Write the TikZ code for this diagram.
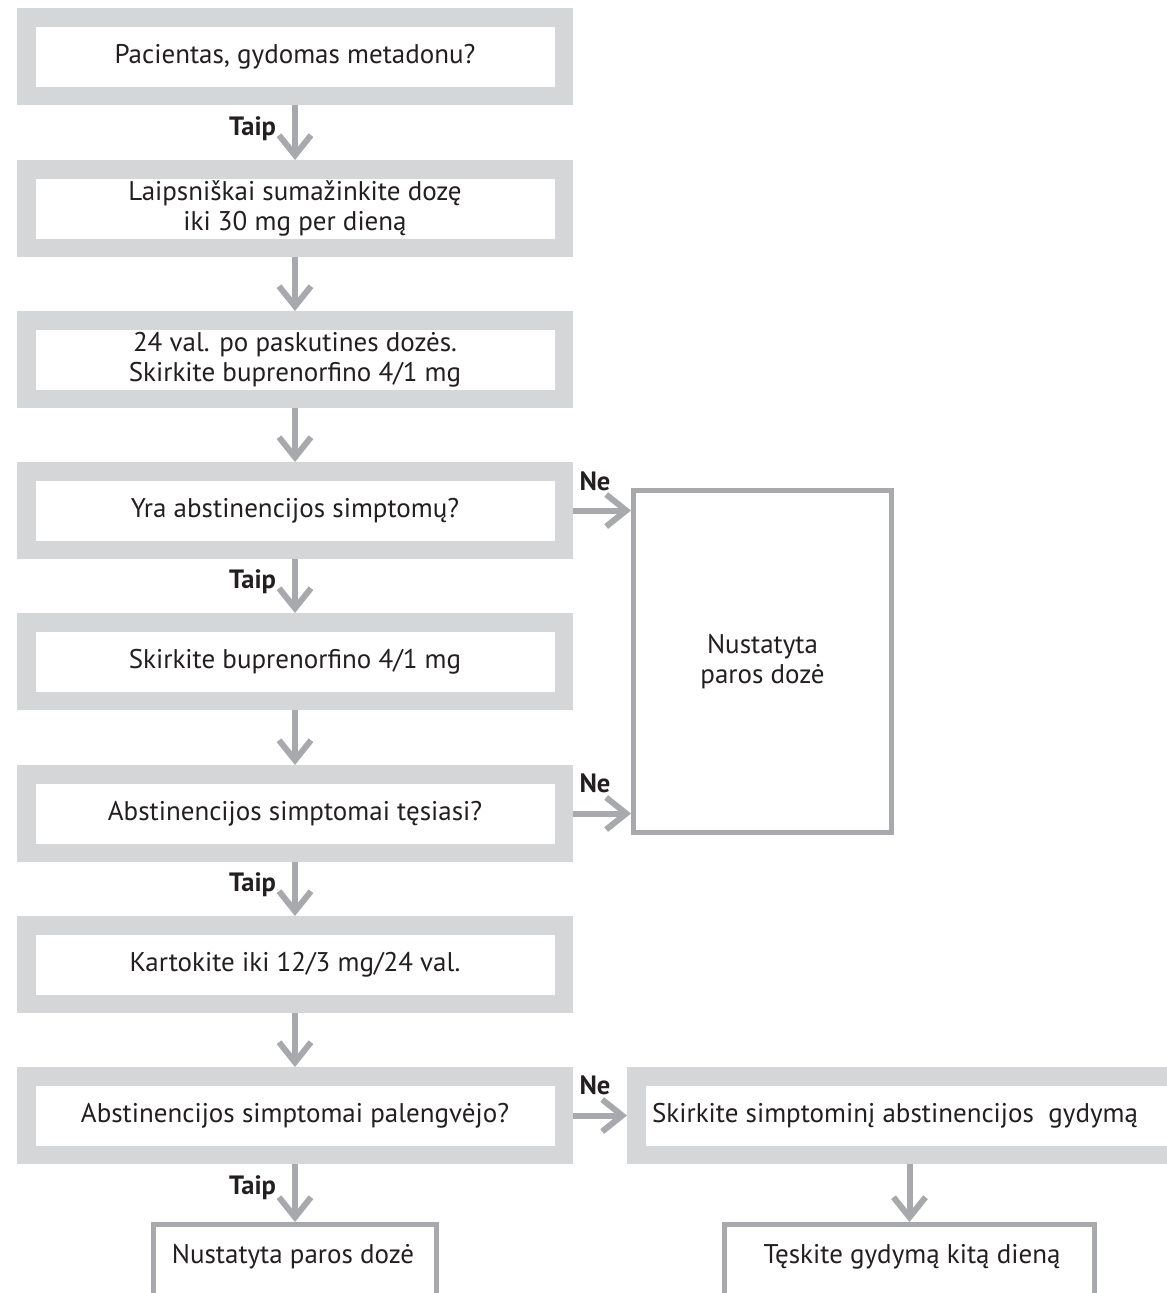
\documentclass[tikz,border=0pt]{standalone}
\usepackage{fontspec}
\setmainfont{PT Sans}
\usetikzlibrary{arrows.meta}
\definecolor{boxgray}{HTML}{D5D6D8}
\definecolor{arrgray}{HTML}{A7A9AC}
\definecolor{txtc}{HTML}{231F20}
\begin{document}
\begin{tikzpicture}[x=1pt,y=-1pt,
  every node/.style={text=txtc, font=\fontsize{27}{30}\selectfont},
  gbox/.style={draw=boxgray, line width=18.5pt, fill=white, minimum width=537.5pt, minimum height=78.5pt, align=center, inner sep=0pt},
  tbox/.style={draw=arrgray, line width=5pt, fill=white, align=center, inner sep=0pt},
  arr/.style={draw=arrgray, line width=6pt, -{Straight Barb[length=20pt,width=32pt]}},
  lab/.style={font=\bfseries\fontsize{26.5}{28}\selectfont}]
\useasboundingbox (0,0) rectangle (1167,1293);
\clip (0,0) rectangle (1167,1293);
\fill[white] (0,0) rectangle (1167,1293);

% left column
\node[gbox] (b1) at (295,56.5) {Pacientas, gydomas metadonu?};
\node[gbox] (b2) at (295,208.5) {Laipsniškai sumažinkite dozę\\iki 30 mg per dieną};
\node[gbox] (b3) at (295,359.5) {24 val. po paskutines dozės.\\Skirkite buprenorfino 4/1 mg};
\node[gbox] (b4) at (295,510.5) {Yra abstinencijos simptomų?};
\node[gbox] (b5) at (295,661.5) {Skirkite buprenorfino 4/1 mg};
\node[gbox] (b6) at (295,813.5) {Abstinencijos simptomai tęsiasi?};
\node[gbox] (b7) at (295,964.5) {Kartokite iki 12/3 mg/24 val.};
\node[gbox] (b8) at (295,1115.5) {Abstinencijos simptomai palengvėjo?};

% right side
\node[tbox, minimum width=258pt, minimum height=342pt] (big) at (762.5,661.5) {Nustatyta\\paros dozė};
\node[gbox, minimum width=539.5pt] (skirk) at (906,1115.5) {};
\node (skirkt) at (895,1115.5) {Skirkite simptominį abstinencijos\ \ gydymą};

% bottom boxes
\node[tbox, minimum width=283pt, minimum height=115pt] (nust) at (295,1282) {};
\node (nustt) at (293,1257) {Nustatyta paros dozė};
\node[tbox, minimum width=370pt, minimum height=115pt] (tesk) at (909.5,1282) {};
\node (teskt) at (912,1257) {Tęskite gydymą kitą dieną};

% arrows
\draw[arr] (b1) -- (b2);
\draw[arr] (b2) -- (b3);
\draw[arr] (b3) -- (b4);
\draw[arr] (b4) -- (b5);
\draw[arr] (b5) -- (b6);
\draw[arr] (b6) -- (b7);
\draw[arr] (b7) -- (b8);
\draw[arr] (b8.south) -- (nust.north);
\draw[arr] (b4.east) -- (b4.east -| big.west);
\draw[arr] (b6.east) -- (b6.east -| big.west);
\draw[arr] (b8.east) -- (skirk.west);
\draw[arr] (skirk.south -| tesk.north) -- (tesk.north);

% labels
\node[lab] (t1) at (252.5,129) {Taip};
\node[lab] (t2) at (252.5,582) {Taip};
\node[lab] (t3) at (252.5,885) {Taip};
\node[lab] (t4) at (252.5,1188) {Taip};
\node[lab] (n1) at (595,481) {Ne};
\node[lab] (n2) at (595,783) {Ne};
\node[lab] (n3) at (595,1085) {Ne};
\end{tikzpicture}
\end{document}
